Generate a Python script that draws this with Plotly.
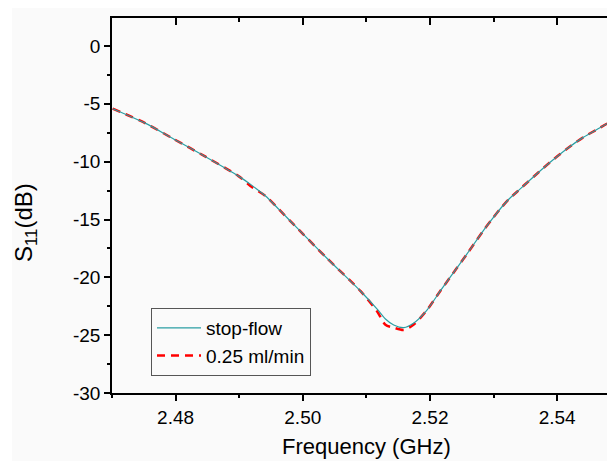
import plotly.graph_objects as go

# ---- data ----
freq_ghz = [2.4701, 2.4753, 2.4795, 2.4847, 2.4899, 2.4920, 2.4941, 2.4963, 2.4986,
            2.5038, 2.5091, 2.5117, 2.5130, 2.5143, 2.5159, 2.5174, 2.5195, 2.5216,
            2.5237, 2.5258, 2.5284, 2.5298, 2.5311, 2.5324, 2.5337, 2.5363, 2.5389,
            2.5415, 2.5441, 2.5468, 2.5491]
s11_stop_flow = [-5.42, -6.69, -7.98, -9.57, -11.25, -12.05, -12.95, -14.15, -15.45,
                 -18.35, -21.20, -22.75, -23.60, -24.12, -24.35, -23.97, -22.85, -21.20,
                 -19.60, -18.00, -15.96, -14.95, -14.05, -13.25, -12.60, -11.30, -10.05,
                 -8.90, -7.90, -7.05, -6.30]
s11_025_ml_min = [-5.42, -6.69, -7.98, -9.57, -11.25, -12.20, -12.95, -14.15, -15.45,
                  -18.35, -21.20, -22.95, -24.10, -24.35, -24.55, -24.10, -22.85, -21.20,
                  -19.60, -18.00, -15.96, -14.95, -14.05, -13.25, -12.60, -11.30, -10.05,
                  -8.90, -7.90, -7.05, -6.30]
series_names = ["stop-flow", "0.25 ml/min"]
x_ticks = [2.48, 2.50, 2.52, 2.54]
y_ticks = [0, -5, -10, -15, -20, -25, -30]

# the page body adds an 8px margin, so the figure is 8px smaller than the window
OFF = 8
W, H = 615 - OFF, 461 - OFF
ML, MR, MT, MB = 112 - OFF, 0, 18 - OFF, 68
PW, PH = W - ML - MR, H - MT - MB
BG = "#fafafa"
FONT = "Liberation Sans, Arial, sans-serif"


def px_x(sx):
    """screen x (reference pixels) -> paper x"""
    return (sx - OFF - ML) / PW


def px_y(sy):
    """screen y (reference pixels) -> paper y"""
    return (H - MB - (sy - OFF)) / PH


fig = go.Figure()
fig.add_trace(go.Scatter(
    x=freq_ghz, y=s11_025_ml_min, name=series_names[1], mode="lines",
    line=dict(color="#ff0000", width=2.5, dash="8px,6px", shape="spline", smoothing=0.8),
    legendrank=2))
fig.add_trace(go.Scatter(
    x=freq_ghz, y=s11_stop_flow, name=series_names[0], mode="lines",
    line=dict(color="#2a9ea3", width=1.2, shape="spline", smoothing=0.8),
    legendrank=1))
# invisible trace to carry the mirrored (top / right) tick axes
fig.add_trace(go.Scatter(x=[None], y=[None], xaxis="x2", yaxis="y2",
                         showlegend=False, hoverinfo="skip"))

xr = [2.47, 2.5491]
yr = [-30, 2.42]
tickfont = dict(family=FONT, size=19, color="black")

fig.update_layout(
    width=W, height=H,
    margin=dict(l=ML, r=MR, t=MT, b=MB, pad=0),
    paper_bgcolor="white", plot_bgcolor=BG,
    font=dict(family=FONT, color="black"),
    xaxis=dict(range=xr, tickvals=x_ticks, ticktext=[f"{v:.2f}" for v in x_ticks],
               showgrid=False, zeroline=False, showline=True, linecolor="black",
               linewidth=1.5, mirror=True, ticks="outside", ticklen=6, tickwidth=1.5,
               tickcolor="black", tickfont=tickfont,
               minor=dict(dtick=0.01, tick0=2.47, ticks="outside", ticklen=3,
                          tickwidth=1.5, tickcolor="black", showgrid=False)),
    yaxis=dict(range=yr, tickvals=y_ticks, ticktext=[str(v) for v in y_ticks],
               showgrid=False, zeroline=False,
               showline=True, linecolor="black", linewidth=1.5, mirror=False,
               ticks="outside", ticklen=6, tickwidth=1.5, tickcolor="black",
               tickfont=tickfont,
               minor=dict(dtick=2.5, tick0=0, ticks="outside", ticklen=3,
                          tickwidth=1.5, tickcolor="black", showgrid=False)),
    xaxis2=dict(range=xr, overlaying="x", side="top", anchor="y", tickvals=x_ticks,
                showticklabels=False, showgrid=False, zeroline=False, showline=False,
                ticks="inside", ticklen=7, tickwidth=1.5, tickcolor="black",
                minor=dict(dtick=0.01, tick0=2.47, ticks="inside", ticklen=4,
                           tickwidth=1.5, tickcolor="black", showgrid=False)),
    yaxis2=dict(range=yr, overlaying="y", side="right", anchor="x", tickvals=y_ticks,
                showticklabels=False, showgrid=False, zeroline=False, showline=False,
                ticks="inside", ticklen=3, tickwidth=1.5, tickcolor="black"),
    legend=dict(x=px_x(151), y=px_y(308), xanchor="left", yanchor="top",
                bgcolor=BG, bordercolor="#555555", borderwidth=1,
                font=dict(family=FONT, size=19, color="black"),
                tracegroupgap=0, itemwidth=44),
    showlegend=True,
)

# light-grey canvas with a thin white border at left/top (as in the reference)
fig.add_shape(type="rect", xref="paper", yref="paper",
              x0=px_x(12), x1=1.05, y0=px_y(480), y1=px_y(5),
              fillcolor=BG, line=dict(width=0), layer="below")

# axis titles
fig.add_annotation(text="S<sub>11</sub>(dB)", xref="paper", yref="paper",
                   x=px_x(25), y=px_y(223), xanchor="center", yanchor="middle",
                   textangle=-90, showarrow=False,
                   font=dict(family=FONT, size=24, color="black"))
fig.add_annotation(text="Frequency (GHz)", xref="paper", yref="paper",
                   x=px_x(366), y=px_y(447), xanchor="center", yanchor="middle",
                   showarrow=False, font=dict(family=FONT, size=22, color="black"))

fig.write_html("out.html")
